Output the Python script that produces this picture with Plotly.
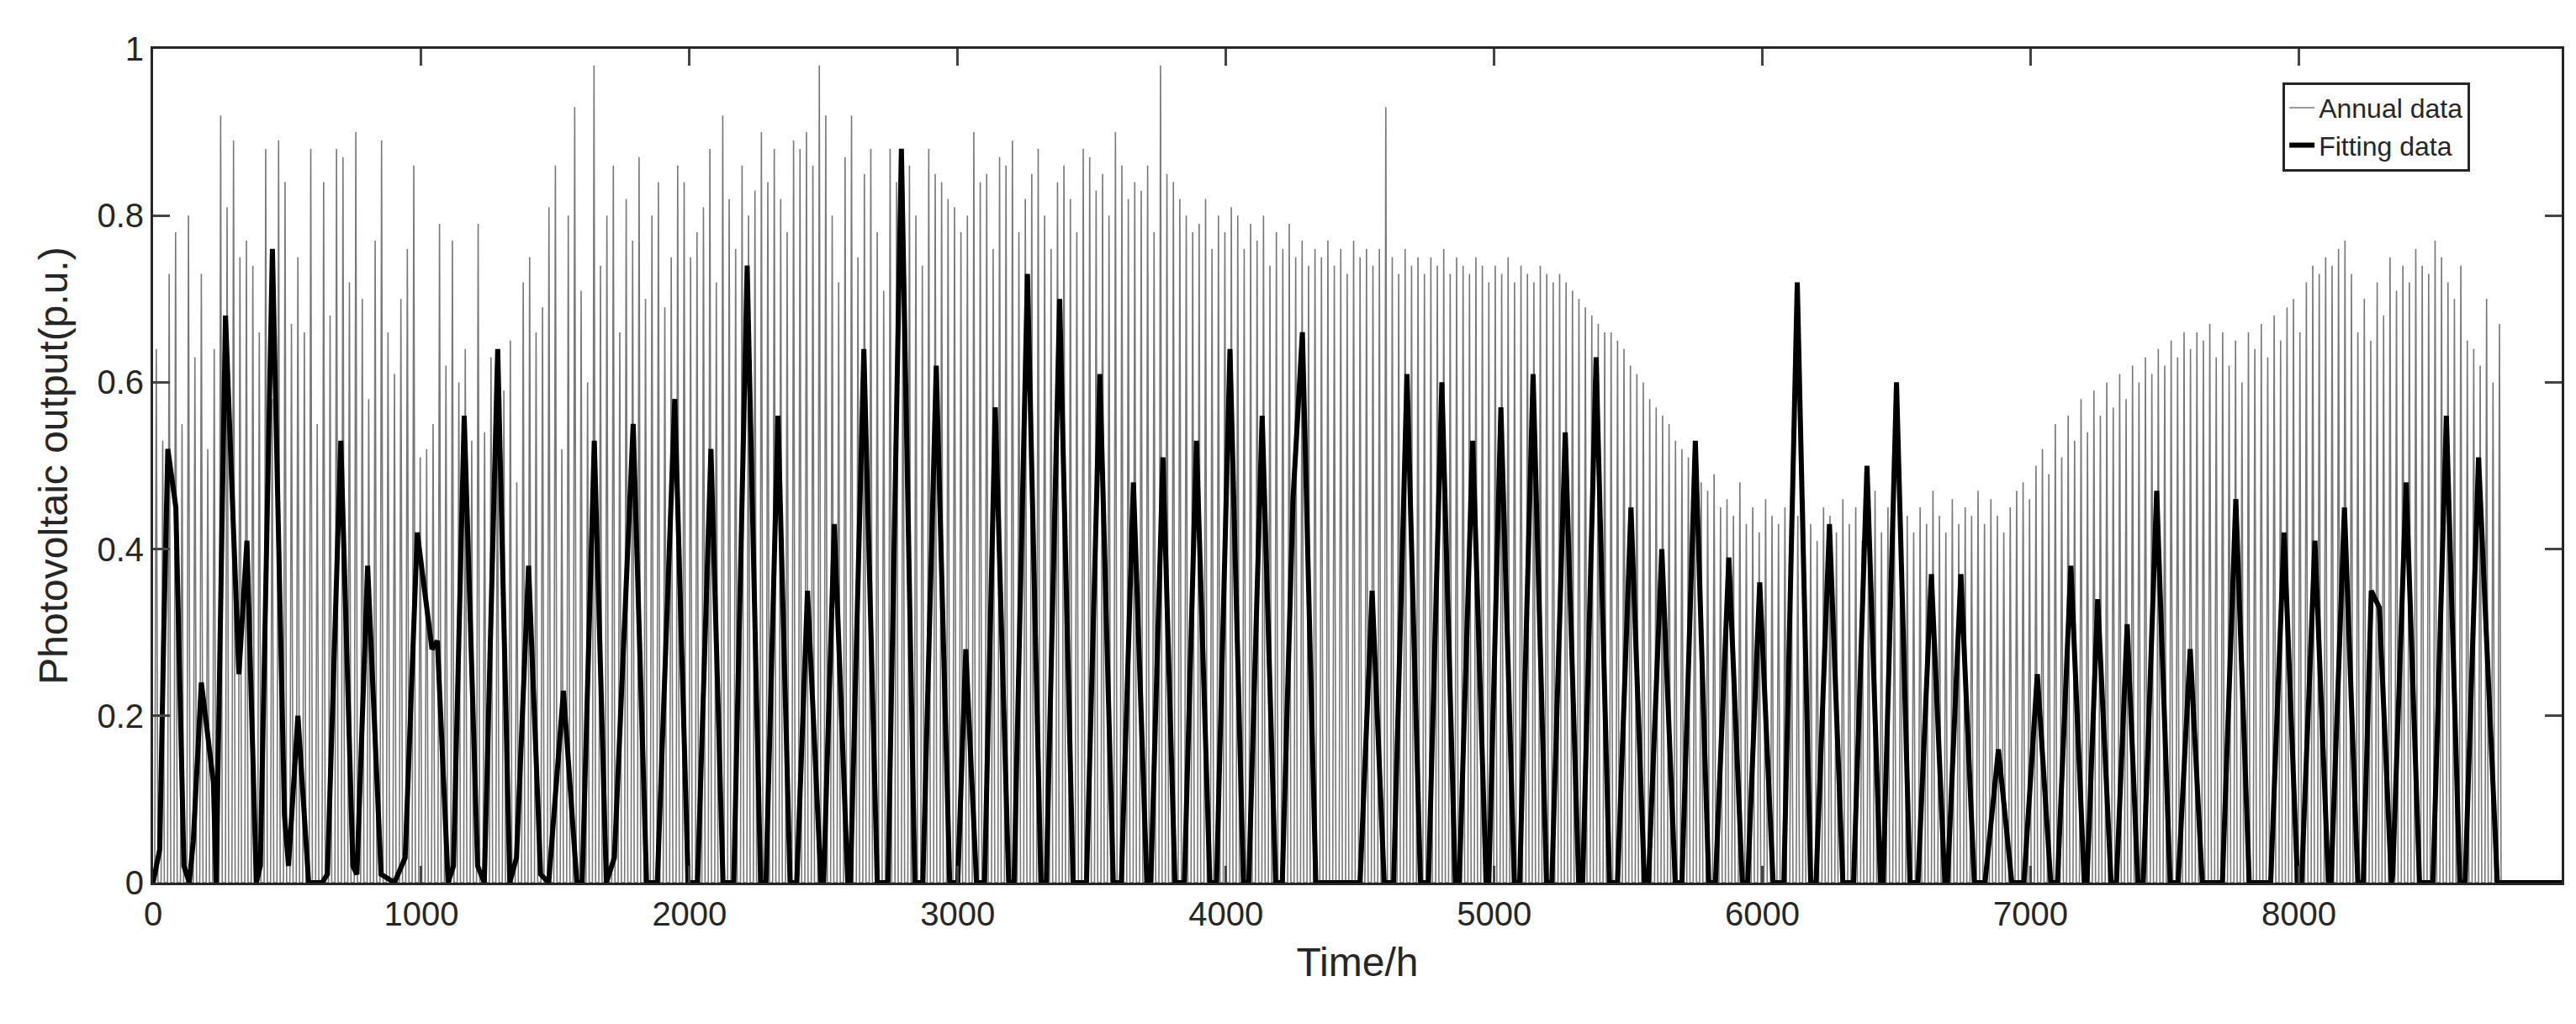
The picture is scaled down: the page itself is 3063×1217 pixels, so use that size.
import plotly.graph_objects as go

# --- daily peak of the annual PV output (one value per day, 365 days) ---
annual_peak = [
    0.64, 0.53, 0.73, 0.78, 0.55, 0.80, 0.63, 0.73, 0.52, 0.64, 0.92, 0.81, 0.89, 0.75, 0.77, 0.74, 0.66, 0.88, 0.58, 0.89,
    0.84, 0.67, 0.75, 0.66, 0.88, 0.55, 0.84, 0.68, 0.88, 0.87, 0.72, 0.90, 0.70, 0.58, 0.77, 0.89, 0.66, 0.61, 0.70, 0.76,
    0.86, 0.51, 0.52, 0.55, 0.79, 0.62, 0.77, 0.60, 0.64, 0.53, 0.79, 0.54, 0.63, 0.60, 0.59, 0.65, 0.48, 0.72, 0.75, 0.66,
    0.69, 0.81, 0.86, 0.52, 0.80, 0.93, 0.71, 0.60, 0.98, 0.74, 0.80, 0.86, 0.66, 0.82, 0.77, 0.87, 0.70, 0.80, 0.84, 0.69,
    0.75, 0.86, 0.84, 0.75, 0.78, 0.81, 0.88, 0.72, 0.92, 0.82, 0.76, 0.86, 0.80, 0.83, 0.90, 0.84, 0.88, 0.82, 0.78, 0.89,
    0.88, 0.90, 0.86, 0.98, 0.92, 0.80, 0.72, 0.87, 0.92, 0.75, 0.85, 0.88, 0.78, 0.71, 0.88, 0.84, 0.82, 0.86, 0.80, 0.74,
    0.88, 0.85, 0.84, 0.82, 0.81, 0.78, 0.80, 0.90, 0.84, 0.85, 0.76, 0.87, 0.86, 0.89, 0.78, 0.82, 0.85, 0.88, 0.80, 0.76,
    0.84, 0.86, 0.82, 0.78, 0.88, 0.87, 0.83, 0.85, 0.80, 0.90, 0.86, 0.82, 0.84, 0.83, 0.86, 0.78, 0.98, 0.85, 0.84, 0.82,
    0.80, 0.78, 0.79, 0.82, 0.76, 0.80, 0.78, 0.81, 0.80, 0.76, 0.79, 0.77, 0.80, 0.74, 0.78, 0.76, 0.79, 0.75, 0.77, 0.74,
    0.76, 0.75, 0.77, 0.74, 0.76, 0.73, 0.77, 0.75, 0.76, 0.74, 0.76, 0.93, 0.75, 0.73, 0.76, 0.74, 0.75, 0.73, 0.75, 0.74,
    0.76, 0.73, 0.75, 0.74, 0.73, 0.75, 0.74, 0.72, 0.74, 0.73, 0.75, 0.72, 0.74, 0.73, 0.72, 0.74, 0.73, 0.72, 0.73, 0.72,
    0.71, 0.70, 0.69, 0.68, 0.67, 0.66, 0.66, 0.65, 0.64, 0.62, 0.61, 0.60, 0.58, 0.57, 0.56, 0.55, 0.53, 0.52, 0.51, 0.50,
    0.48, 0.47, 0.49, 0.45, 0.46, 0.44, 0.48, 0.43, 0.45, 0.42, 0.46, 0.44, 0.43, 0.45, 0.42, 0.44, 0.46, 0.43, 0.41, 0.45,
    0.44, 0.42, 0.46, 0.43, 0.45, 0.41, 0.44, 0.47, 0.42, 0.45, 0.43, 0.46, 0.44, 0.42, 0.45, 0.43, 0.47, 0.44, 0.42, 0.46,
    0.43, 0.45, 0.44, 0.47, 0.43, 0.46, 0.44, 0.42, 0.45, 0.47, 0.48, 0.46, 0.50, 0.52, 0.49, 0.55, 0.51, 0.56, 0.53, 0.58,
    0.54, 0.59, 0.56, 0.60, 0.57, 0.61, 0.58, 0.62, 0.60, 0.63, 0.61, 0.64, 0.62, 0.65, 0.63, 0.66, 0.64, 0.66, 0.65, 0.67,
    0.63, 0.66, 0.62, 0.65, 0.60, 0.66, 0.64, 0.67, 0.63, 0.68, 0.65, 0.69, 0.70, 0.66, 0.72, 0.74, 0.73, 0.75, 0.74, 0.76,
    0.77, 0.73, 0.66, 0.70, 0.65, 0.72, 0.68, 0.75, 0.71, 0.74, 0.72, 0.76, 0.74, 0.73, 0.77, 0.75, 0.72, 0.70, 0.74, 0.65,
    0.64, 0.62, 0.70, 0.60, 0.67,
]

# --- fitting curve vertices (hour, p.u.) ---
fit_t = [0, 25, 40, 55, 85, 115, 135, 150, 180, 225, 235, 270, 320, 350, 385, 400, 445, 490, 505, 540, 580, 630,
         650, 700, 745, 760, 800, 850, 900, 940, 985, 1040, 1060, 1100, 1120, 1160, 1210, 1235, 1285, 1330, 1355,
         1400, 1445, 1475, 1530, 1580, 1600, 1645, 1690, 1720, 1790, 1840, 1880, 1945, 1995, 2030, 2080, 2125,
         2165, 2215, 2265, 2285, 2330, 2375, 2400, 2440, 2490, 2500, 2540, 2590, 2600, 2650, 2700, 2740, 2790,
         2840, 2870, 2920, 2970, 3000, 3030, 3070, 3100, 3140, 3190, 3210, 3260, 3310, 3330, 3380, 3430, 3480,
         3530, 3580, 3610, 3655, 3705, 3720, 3765, 3810, 3845, 3890, 3940, 3965, 4015, 4065, 4085, 4135, 4185,
         4210, 4250, 4285, 4335, 4500, 4545, 4590, 4625, 4675, 4725, 4755, 4805, 4855, 4870, 4920, 4970, 4980,
         5025, 5075, 5095, 5145, 5195, 5215, 5265, 5315, 5330, 5380, 5430, 5460, 5510, 5560, 5575, 5625, 5675,
         5700, 5750, 5800, 5825, 5875, 5925, 5945, 5990, 6040, 6080, 6130, 6180, 6200, 6250, 6300, 6340, 6390,
         6440, 6450, 6500, 6550, 6580, 6630, 6680, 6690, 6740, 6790, 6830, 6880, 6930, 6975, 7025, 7075, 7100,
         7150, 7200, 7210, 7250, 7300, 7320, 7360, 7400, 7420, 7470, 7520, 7550, 7595, 7640, 7715, 7765, 7815,
         7895, 7945, 7995, 8010, 8060, 8110, 8120, 8170, 8220, 8240, 8270, 8300, 8345, 8350, 8400, 8450, 8500,
         8550, 8600, 8620, 8670, 8740, 8980]
fit_v = [0, 0.04, 0.30, 0.52, 0.45, 0.02, 0, 0.05, 0.24, 0.12, 0, 0.68, 0.25, 0.41, 0, 0.02, 0.76, 0.08, 0.02, 0.20,
         0, 0, 0.01, 0.53, 0.02, 0.01, 0.38, 0.01, 0, 0.03, 0.42, 0.28, 0.29, 0, 0.02, 0.56, 0.02, 0, 0.64, 0, 0.03,
         0.38, 0.01, 0, 0.23, 0, 0, 0.53, 0, 0.03, 0.55, 0, 0, 0.58, 0, 0, 0.52, 0, 0, 0.74, 0, 0, 0.56, 0, 0,
         0.35, 0, 0, 0.43, 0, 0, 0.64, 0, 0, 0.88, 0, 0, 0.62, 0, 0, 0.28, 0, 0, 0.57, 0, 0, 0.73, 0, 0, 0.70,
         0, 0, 0.61, 0, 0, 0.48, 0, 0, 0.51, 0, 0, 0.53, 0, 0, 0.64, 0, 0, 0.56, 0, 0, 0.46, 0.66, 0, 0, 0.35,
         0, 0, 0.61, 0, 0, 0.60, 0, 0, 0.53, 0, 0, 0.57, 0, 0, 0.61, 0, 0, 0.54, 0, 0, 0.63, 0, 0, 0.45, 0, 0,
         0.40, 0, 0, 0.53, 0, 0, 0.39, 0, 0, 0.36, 0, 0, 0.72, 0, 0, 0.43, 0, 0, 0.50, 0, 0, 0.60, 0, 0, 0.37,
         0, 0, 0.37, 0, 0, 0.16, 0, 0, 0.25, 0, 0, 0.38, 0, 0, 0.34, 0, 0, 0.31, 0, 0, 0.47, 0, 0, 0.28, 0, 0,
         0.46, 0, 0, 0.42, 0, 0, 0.41, 0, 0, 0.45, 0, 0, 0.35, 0.33, 0, 0.01, 0.48, 0, 0, 0.56, 0, 0, 0.51, 0, 0]

# build the hourly spikes: each day rises from 0 at 06:00 to its peak at 12:00, back to 0 at 18:00
ann_x, ann_y = [], []
for d, p in enumerate(annual_peak):
    ann_x += [d * 24 + 6, d * 24 + 12, d * 24 + 18]
    ann_y += [0, p, 0]

fig = go.Figure()
fig.add_trace(go.Scatter(x=ann_x, y=ann_y, mode="lines", name="Annual data",
                         line=dict(color="rgb(120,120,120)", width=1.6)))
fig.add_trace(go.Scatter(x=fit_t, y=fit_v, mode="lines", name="Fitting data",
                         line=dict(color="black", width=6)))

axis_font = dict(family="Liberation Sans, Arial", size=40, color="#262626")
fig.update_layout(
    width=3063, height=1217,
    paper_bgcolor="white", plot_bgcolor="white",
    margin=dict(l=174, r=25, t=50, b=176),
    font=axis_font,
    showlegend=True,
    legend=dict(x=0.962, y=0.96, xanchor="right", yanchor="top",
                bgcolor="white", bordercolor="#262626", borderwidth=3,
                font=dict(family="Liberation Sans, Arial", size=32, color="#262626")),
)
fig.update_xaxes(range=[0, 8980], tickvals=[0, 1000, 2000, 3000, 4000, 5000, 6000, 7000, 8000],
                 ticks="inside", ticklen=20, tickwidth=3, mirror="ticks", showline=True,
                 linecolor="#262626", linewidth=3, showgrid=False, zeroline=False,
                 title=dict(text="Time/h", standoff=20))
fig.update_yaxes(range=[0, 1], tickvals=[0, 0.2, 0.4, 0.6, 0.8, 1], ticktext=["0", "0.2", "0.4", "0.6", "0.8", "1"],
                 ticks="inside", ticklen=20, tickwidth=3, mirror="ticks", showline=True,
                 linecolor="#262626", linewidth=3, showgrid=False, zeroline=False,
                 title=dict(text="Photovoltaic output(p.u.)", standoff=20))

fig.write_html("out.html")
